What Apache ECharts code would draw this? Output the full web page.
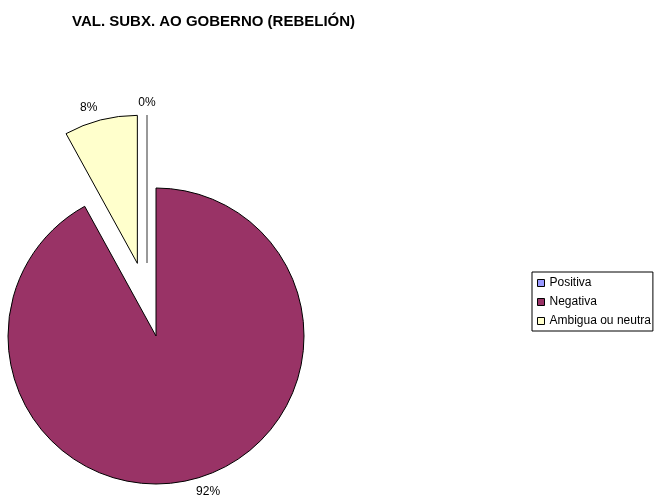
<!DOCTYPE html>
<html>
<head>
<meta charset="utf-8">
<script src="https://cdn.jsdelivr.net/npm/echarts@6/dist/echarts.min.js"></script>
<style>
html,body{margin:0;padding:0;background:#fff;}
#chart{width:654px;height:498px;}
</style>
</head>
<body>
<div id="chart"></div>
<script>
var titleText = 'VAL. SUBX. AO GOBERNO (REBELIÓN)';
var categories = ['Positiva', 'Negativa', 'Ambigua ou neutra'];
var values = [0, 92, 8];
var colors = ['#9999FF', '#993366', '#FFFFCC'];
var exploded = [true, false, true];

var FONT = '"Liberation Sans", Arial, sans-serif';

// main series: all slices except the zero slice (drawn by second series)
var mainData = categories.map(function (c, i) {
  var hidden = values[i] === 0;
  return {
    name: c,
    value: values[i],
    selected: exploded[i],
    itemStyle: hidden ? { color: 'rgba(0,0,0,0)', borderWidth: 0 } : { color: colors[i], borderColor: '#000', borderWidth: 1 },
    label: { show: !hidden }
  };
});
// zero slice series
var zeroData = categories.map(function (c, i) {
  var show = values[i] === 0;
  return {
    name: c,
    value: values[i],
    selected: exploded[i],
    itemStyle: show ? { color: colors[i], borderColor: '#777', borderWidth: 1 } : { color: 'rgba(0,0,0,0)', borderWidth: 0 },
    label: { show: show }
  };
});

var labelCommon = {
  position: 'outside',
  formatter: function (p) { return p.value + '%'; },
  fontFamily: FONT,
  fontSize: 12,
  color: '#000',
  distanceToLabelLine: 0,
  alignTo: 'none'
};

var chart = echarts.init(document.getElementById('chart'), null, { renderer: 'canvas' });
chart.setOption({
  animation: false,
  backgroundColor: '#fff',
  title: {
    text: titleText,
    left: 72,
    top: 14,
    padding: 0,
    textStyle: { fontFamily: FONT, fontSize: 15, fontWeight: 'bold', color: '#000' }
  },
  legend: {
    orient: 'vertical',
    left: 532,
    top: 272,
    padding: [5, 2, 4, 5],
    itemGap: 7,
    itemWidth: 7,
    itemHeight: 7,
    borderColor: '#000',
    borderWidth: 1,
    borderRadius: 0,
    icon: 'rect',
    selectedMode: false,
    textStyle: { fontFamily: FONT, fontSize: 12, color: '#000' },
    data: categories.map(function (c, i) {
      return { name: c, itemStyle: { color: colors[i], borderColor: '#000', borderWidth: 1 } };
    })
  },
  series: [
    {
      type: 'pie',
      center: [156, 336],
      radius: 148,
      startAngle: 90,
      clockwise: true,
      selectedMode: 'multiple',
      selectedOffset: 75,
      avoidLabelOverlap: false,
      emphasis: { disabled: true },
      label: labelCommon,
      labelLine: { show: false, length: 13, length2: 0 },
      data: mainData
    },
    {
      type: 'pie',
      center: [147, 336],
      radius: 148,
      startAngle: 90,
      clockwise: true,
      selectedMode: 'multiple',
      selectedOffset: 73,
      avoidLabelOverlap: false,
      silent: true,
      emphasis: { disabled: true },
      label: labelCommon,
      labelLine: { show: false, length: 12, length2: 0 },
      labelLayout: function (p) { return values[p.dataIndex] === 0 ? { align: 'center' } : {}; },
      data: zeroData
    }
  ]
});
</script>
</body>
</html>
